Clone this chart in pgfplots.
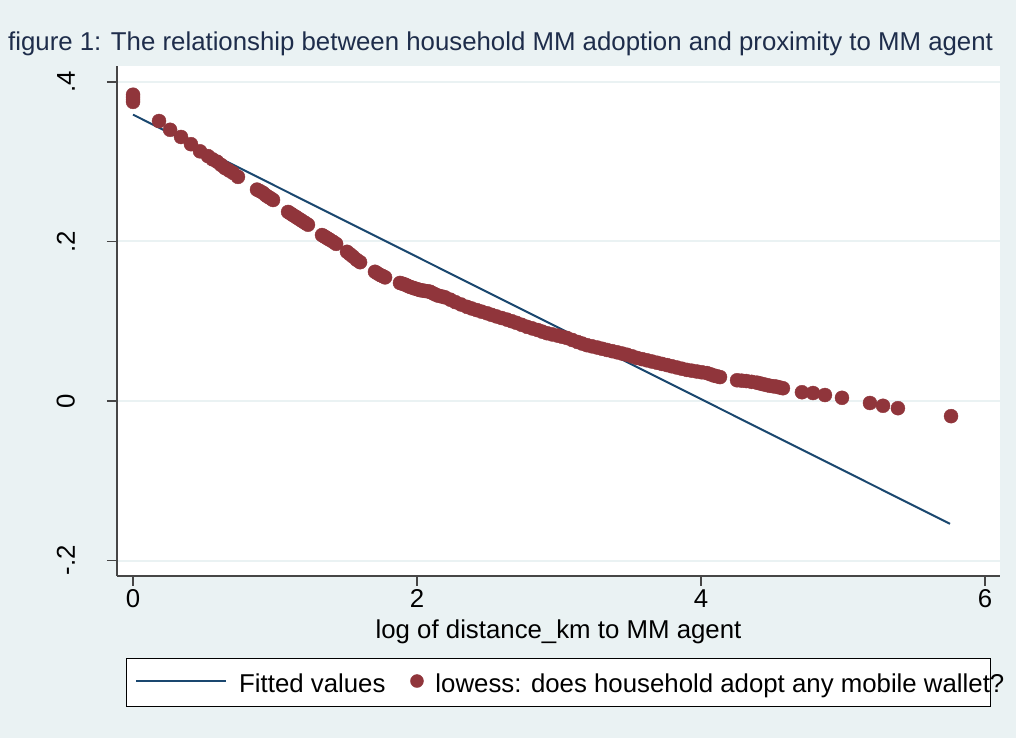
\documentclass[border=0pt]{standalone}
\usepackage{pgfplots}
\pgfplotsset{compat=1.18}
\usepackage{fontspec}
\setmainfont{Liberation Sans}
\definecolor{stbg}{RGB}{234,242,243}
\definecolor{stnavy}{RGB}{26,71,111}
\definecolor{stmaroon}{RGB}{144,53,59}
\definecolor{sttitle}{RGB}{30,45,75}
\definecolor{staxis}{RGB}{70,70,70}
\newcommand{\bigf}{\fontsize{25.8}{30}\selectfont}
\pgfplotsset{
  linelegend/.style={legend image code/.code={\draw[##1] (0pt,0.3em) -- (90pt,0.3em);}},
  marklegend/.style={legend image code/.code={\draw[##1, mark size=6.5pt] plot coordinates {(6.5pt,0.3em)};}},
}
\begin{document}
\begin{tikzpicture}[x=1pt,y=1pt]
\fill[stbg] (0,0) rectangle (1016,738);
\useasboundingbox (0,0) rectangle (1016,738);
\node[anchor=base west, inner sep=0pt, text=sttitle, font=\bigf] at (8,687) {figure 1: The relationship between household MM adoption and proximity to MM agent};
\filldraw[fill=white, draw=black, line width=1pt] (126,31) rectangle (990,79);
\begin{axis}[
  at={(117pt,162pt)}, anchor=south west,
  scale only axis, width=883pt, height=510pt,
  xmin=-0.113, xmax=6.106, ymin=-0.2194, ymax=0.42,
  axis background/.style={fill=white},
  axis x line*=bottom, axis y line*=left,
  axis line style={-, draw=staxis, line width=1.5pt},
  xtick={0,2,4,6},
  ytick={-0.2,0,0.2,0.4}, yticklabels={-.2,0,.2,.4},
  tick align=outside, major tick length=10pt,
  tick style={draw=staxis, line width=1.3pt},
  ymajorgrids, grid style={draw=stbg, line width=2pt},
  /pgf/number format/assume math mode=true,
  ticklabel style={font=\bigf},
  yticklabel style={xshift=-32pt, rotate=90, anchor=south, inner sep=0pt},
  xlabel={log of distance\_km to MM agent},
  xlabel style={font=\bigf, at={(axis description cs:0.5,-0.1235)}, anchor=base, inner sep=0pt},
  legend style={at={(axis description cs:0.0170,-0.2118)}, anchor=west, draw=none, fill=none,
    font=\bigf, legend columns=2, nodes={inner sep=0pt},
    /tikz/every odd column/.append style={column sep=12pt},
    /tikz/every even column/.append style={column sep=25pt}},
]
\addplot[stnavy, line width=2pt, linelegend]
  coordinates {(0,0.359) (5.754,-0.154)};
\addlegendentry{Fitted values}
\addplot[only marks, mark=*, mark size=7pt, color=stmaroon, marklegend]
  coordinates {
  (0,0.384) (0,0.381) (0,0.378) (0,0.375)
  (0.183,0.351) (0.261,0.340) (0.338,0.331) (0.408,0.322) (0.472,0.313)
  (0.528,0.307) (0.560,0.303) (0.592,0.300) (0.620,0.296) (0.648,0.292)
  (0.676,0.289) (0.704,0.286) (0.739,0.281)
  (0.873,0.265) (0.895,0.263) (0.915,0.261) (0.935,0.258) (0.951,0.256)
  (0.970,0.254) (0.986,0.252)
  (1.092,0.237) (1.110,0.235) (1.127,0.233) (1.145,0.231) (1.162,0.229)
  (1.180,0.227) (1.197,0.225) (1.215,0.223) (1.232,0.221)
  (1.331,0.208) (1.345,0.2065) (1.359,0.205) (1.373,0.2035) (1.387,0.202)
  (1.410,0.1995) (1.430,0.197)
  (1.507,0.187) (1.528,0.184) (1.549,0.181) (1.575,0.177) (1.599,0.174)
  (1.704,0.162) (1.722,0.160) (1.740,0.158) (1.758,0.1565) (1.775,0.155)
  (1.880,0.148) (1.898,0.147) (1.915,0.146) (1.933,0.1445) (1.951,0.143)
  (1.970,0.142) (1.986,0.141) (2.005,0.140) (2.021,0.139)
  (2.040,0.1385) (2.056,0.138) (2.075,0.1375) (2.092,0.137) (2.113,0.135)
  (2.130,0.1335) (2.150,0.132) (2.175,0.131) (2.197,0.130)
  (2.235,0.127) (2.270,0.124) (2.310,0.121) (2.352,0.118) (2.385,0.116)
  (2.420,0.114) (2.455,0.112) (2.493,0.110) (2.525,0.108) (2.560,0.106)
  (2.597,0.104) (2.634,0.102) (2.667,0.100) (2.700,0.098) (2.737,0.0955)
  (2.775,0.093) (2.812,0.091) (2.850,0.089) (2.882,0.087) (2.915,0.085)
  (2.952,0.0835) (2.990,0.082) (3.023,0.0805) (3.056,0.079) (3.093,0.0765)
  (3.130,0.074) (3.163,0.072) (3.197,0.070) (3.233,0.0685) (3.270,0.067)
  (3.304,0.0655) (3.338,0.064) (3.374,0.0625) (3.410,0.061) (3.445,0.0595)
  (3.479,0.058) (3.515,0.056) (3.550,0.054) (3.585,0.0525) (3.620,0.051)
  (3.655,0.0495) (3.690,0.048) (3.725,0.0465) (3.761,0.045) (3.795,0.0435)
  (3.830,0.042) (3.865,0.0405) (3.901,0.039) (3.935,0.038) (3.970,0.037)
  (4.006,0.036) (4.042,0.035) (4.066,0.0335) (4.090,0.032) (4.112,0.031)
  (4.134,0.030)
  (4.254,0.026) (4.287,0.0255) (4.320,0.025) (4.357,0.024) (4.394,0.023)
  (4.417,0.022) (4.440,0.021) (4.463,0.020) (4.486,0.019) (4.508,0.0185)
  (4.530,0.018) (4.553,0.017) (4.577,0.016)
  (4.711,0.011) (4.789,0.010) (4.873,0.0075) (4.993,0.004)
  (5.190,-0.0025) (5.282,-0.006) (5.387,-0.009) (5.761,-0.019)
  };
\addlegendentry{lowess: does household adopt any mobile wallet?}
\end{axis}
\end{tikzpicture}
\end{document}
